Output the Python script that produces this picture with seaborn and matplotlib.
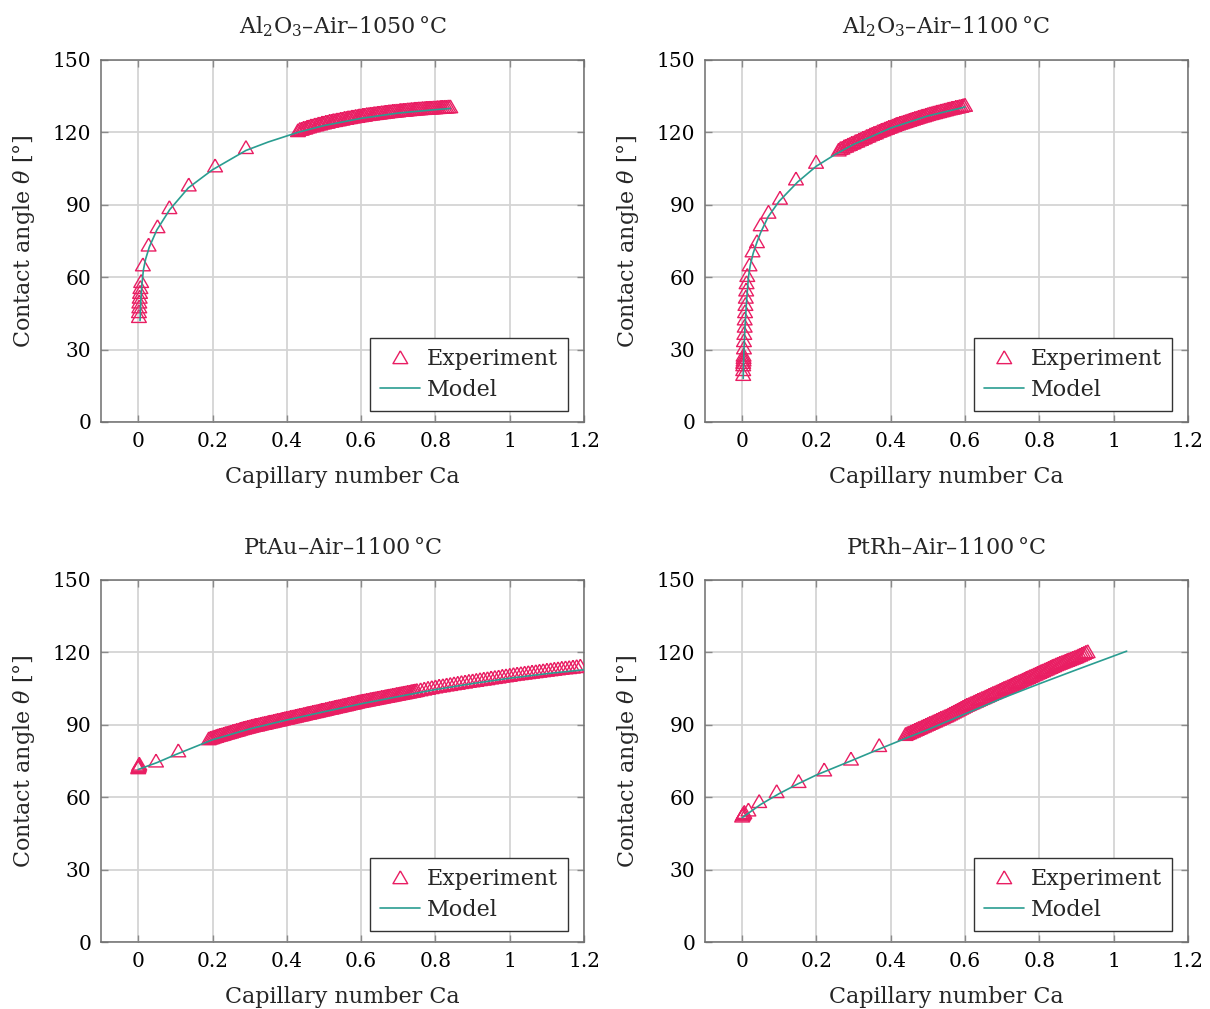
import matplotlib
matplotlib.use('Agg')
import pandas as pd
import seaborn as sns
import matplotlib.pyplot as plt
from matplotlib.markers import MarkerStyle

# ---- data ----
titles = [r'Al$_2$O$_3$–Air–1050$\,$°C', r'Al$_2$O$_3$–Air–1100$\,$°C',
          r'PtAu–Air–1100$\,$°C', r'PtRh–Air–1100$\,$°C']

# Al2O3 1050
exp1_ca = [0.002, 0.002, 0.003, 0.003, 0.004, 0.005, 0.006, 0.008, 0.0126, 0.028,
           0.052, 0.084, 0.136, 0.207, 0.290,
           0.430, 0.435, 0.440, 0.445, 0.450, 0.455, 0.460, 0.465, 0.470, 0.475,
           0.480, 0.485, 0.490, 0.495, 0.500, 0.505, 0.510, 0.515, 0.520, 0.525,
           0.530, 0.535, 0.540, 0.545, 0.550, 0.555, 0.560, 0.565, 0.570, 0.575,
           0.580, 0.585, 0.590, 0.595, 0.600, 0.605, 0.610, 0.615, 0.620, 0.625,
           0.630, 0.635, 0.640, 0.645, 0.650, 0.655, 0.660, 0.665, 0.670, 0.675,
           0.680, 0.685, 0.690, 0.695, 0.700, 0.705, 0.710, 0.715, 0.720, 0.725,
           0.730, 0.735, 0.740, 0.745, 0.750, 0.755, 0.760, 0.765, 0.770, 0.775,
           0.780, 0.785, 0.790, 0.795, 0.800, 0.805, 0.810, 0.815, 0.820, 0.825,
           0.830, 0.835, 0.840]
exp1_th = [43, 45, 47, 49, 51, 53, 55, 57.5, 64.4, 72.6,
           80.2, 88.1, 97.5, 105.4, 113.0,
           120.0, 120.5, 120.6, 121.0, 121.1, 121.5, 121.6, 122.0, 122.0, 122.4,
           122.4, 122.8, 122.8, 123.2, 123.2, 123.5, 123.5, 123.9, 123.9, 124.2,
           124.2, 124.5, 124.5, 124.8, 124.8, 125.1, 125.1, 125.4, 125.4, 125.7,
           125.7, 125.9, 125.9, 126.2, 126.2, 126.4, 126.4, 126.7, 126.7, 126.9,
           126.9, 127.1, 127.1, 127.3, 127.3, 127.5, 127.5, 127.7, 127.7, 127.9,
           127.9, 128.1, 128.1, 128.2, 128.2, 128.4, 128.4, 128.5, 128.5, 128.7,
           128.7, 128.8, 128.8, 129.0, 129.0, 129.1, 129.1, 129.2, 129.2, 129.3,
           129.3, 129.4, 129.4, 129.5, 129.5, 129.6, 129.6, 129.7, 129.7, 129.8,
           129.8, 129.9, 129.9]
mod1_ca = [0.005, 0.007, 0.01, 0.014, 0.02, 0.03, 0.05, 0.085, 0.135, 0.2,
           0.29, 0.35, 0.43, 0.5, 0.6, 0.7, 0.8, 0.84]
mod1_th = [42, 50, 57, 63, 67.5, 72.5, 79.5, 88, 97, 104.5,
           112.5, 116, 120, 122.8, 125.8, 128, 129.4, 129.9]

# Al2O3 1100
exp2_ca = [0.003, 0.003, 0.003, 0.003, 0.004, 0.004, 0.004, 0.005, 0.005, 0.006,
           0.007, 0.007, 0.008, 0.009, 0.010, 0.011, 0.012, 0.014,
           0.020, 0.028, 0.040, 0.050, 0.071, 0.102, 0.145, 0.199,
           0.260, 0.265, 0.270, 0.275, 0.280, 0.285, 0.290, 0.295, 0.300, 0.305,
           0.310, 0.315, 0.320, 0.325, 0.330, 0.335, 0.340, 0.345, 0.350, 0.355,
           0.360, 0.365, 0.370, 0.375, 0.380, 0.385, 0.390, 0.395, 0.400, 0.405,
           0.410, 0.415, 0.420, 0.425, 0.430, 0.435, 0.440, 0.445, 0.450, 0.455,
           0.460, 0.465, 0.470, 0.475, 0.480, 0.485, 0.490, 0.495, 0.500, 0.505,
           0.510, 0.515, 0.520, 0.525, 0.530, 0.535, 0.540, 0.545, 0.550, 0.555,
           0.560, 0.565, 0.570, 0.575, 0.580, 0.585, 0.590, 0.595, 0.600]
exp2_th = [19, 21, 23, 24, 25, 26, 27, 30, 33, 36,
           39, 42, 45, 48, 51, 54, 57, 60,
           64.4, 70.2, 74, 81, 86.2, 92, 100, 106.9,
           112.0, 112.6, 112.8, 113.4, 113.6, 114.1, 114.3, 114.8, 115.0, 115.5,
           115.7, 116.2, 116.4, 116.9, 117.1, 117.6, 117.8, 118.3, 118.5, 118.9,
           119.1, 119.6, 119.8, 120.2, 120.4, 120.8, 121.0, 121.4, 121.6, 122.0,
           122.2, 122.6, 122.8, 123.1, 123.3, 123.6, 123.8, 124.1, 124.3, 124.6,
           124.8, 125.1, 125.3, 125.6, 125.8, 126.1, 126.2, 126.5, 126.7, 127.0,
           127.1, 127.4, 127.5, 127.8, 127.9, 128.2, 128.3, 128.6, 128.7, 129.0,
           129.1, 129.3, 129.4, 129.7, 129.8, 130.0, 130.1, 130.4, 130.5]
mod2_ca = [0.003, 0.005, 0.008, 0.012, 0.017, 0.022, 0.03, 0.04, 0.05, 0.07,
           0.1, 0.15, 0.2, 0.25, 0.3, 0.4, 0.5, 0.6]
mod2_th = [18, 30, 40, 50, 60, 65, 70, 74.5, 78.5, 85,
           91.5, 99.5, 106, 110.8, 115, 121.8, 126.8, 130.5]

# PtAu 1100
exp3_ca = [0.0, 0.001, 0.002, 0.003, 0.048, 0.108,
           0.190, 0.195, 0.200, 0.205, 0.210, 0.215, 0.220, 0.225, 0.230, 0.235,
           0.240, 0.245, 0.250, 0.255, 0.260, 0.265, 0.270, 0.275, 0.280, 0.285,
           0.290, 0.295, 0.300, 0.305, 0.310, 0.315, 0.320, 0.325, 0.330, 0.335,
           0.340, 0.345, 0.350, 0.355, 0.360, 0.365, 0.370, 0.375, 0.380, 0.385,
           0.390, 0.395, 0.400, 0.405, 0.410, 0.415, 0.420, 0.425, 0.430, 0.435,
           0.440, 0.445, 0.450, 0.455, 0.460, 0.465, 0.470, 0.475, 0.480, 0.485,
           0.490, 0.495, 0.500, 0.505, 0.510, 0.515, 0.520, 0.525, 0.530, 0.535,
           0.540, 0.545, 0.550, 0.555, 0.560, 0.565, 0.570, 0.575, 0.580, 0.585,
           0.590, 0.595, 0.600, 0.605, 0.610, 0.615, 0.620, 0.625, 0.630, 0.635,
           0.640, 0.645, 0.650, 0.655, 0.660, 0.665, 0.670, 0.675, 0.680, 0.685,
           0.690, 0.695, 0.700, 0.705, 0.710, 0.715, 0.720, 0.725, 0.730, 0.735,
           0.740, 0.745, 0.750,
           0.76, 0.77, 0.78, 0.79, 0.80, 0.81, 0.82, 0.83, 0.84, 0.85,
           0.86, 0.87, 0.88, 0.89, 0.90, 0.91, 0.92, 0.93, 0.94, 0.95,
           0.96, 0.97, 0.98, 0.99, 1.00, 1.01, 1.02, 1.03, 1.04, 1.05,
           1.06, 1.07, 1.08, 1.09, 1.10, 1.11, 1.12, 1.13, 1.14, 1.15,
           1.16, 1.17, 1.18, 1.19]
exp3_th = [71.5, 72, 72.5, 73, 74.3, 78.5,
           83.5, 83.8, 84.0, 84.3, 84.5, 84.8, 85.0, 85.2, 85.4, 85.7,
           85.9, 86.1, 86.3, 86.6, 86.8, 87.0, 87.2, 87.5, 87.7, 87.9,
           88.1, 88.3, 88.5, 88.7, 88.9, 89.1, 89.2, 89.4, 89.6, 89.8,
           89.9, 90.1, 90.3, 90.5, 90.6, 90.8, 91.0, 91.2, 91.3, 91.5,
           91.7, 91.9, 92.0, 92.2, 92.4, 92.6, 92.7, 92.9, 93.1, 93.3,
           93.4, 93.6, 93.8, 94.0, 94.1, 94.3, 94.5, 94.7, 94.8, 95.0,
           95.2, 95.4, 95.5, 95.7, 95.9, 96.1, 96.2, 96.4, 96.6, 96.8,
           96.9, 97.1, 97.3, 97.5, 97.6, 97.8, 98.0, 98.2, 98.3, 98.5,
           98.7, 98.9, 99.0, 99.2, 99.3, 99.5, 99.6, 99.8, 99.9, 100.1,
           100.2, 100.4, 100.5, 100.7, 100.8, 101.0, 101.1, 101.3, 101.4, 101.6,
           101.7, 101.9, 102.0, 102.2, 102.3, 102.5, 102.6, 102.8, 102.9, 103.1,
           103.2, 103.4, 103.5,
           103.8, 104.1, 104.4, 104.7, 105.0, 105.3, 105.5, 105.8, 106.0, 106.3,
           106.5, 106.8, 107.0, 107.3, 107.5, 107.7, 108.0, 108.2, 108.4, 108.7,
           108.9, 109.1, 109.4, 109.6, 109.8, 110.1, 110.3, 110.5, 110.7, 110.9,
           111.1, 111.3, 111.5, 111.7, 111.9, 112.1, 112.3, 112.5, 112.7, 112.9,
           113.0, 113.2, 113.4, 113.6]
mod3_ca = [0.0, 0.05, 0.1, 0.2, 0.3, 0.4, 0.5, 0.6, 0.7, 0.8, 0.9, 1.0, 1.1, 1.2]
mod3_th = [71.5, 74.3, 77.6, 83.8, 88.3, 92, 95.4, 98.7, 101.7, 104.6,
           107.1, 109.3, 111.2, 112.8]

# PtRh 1100
exp4_ca = [0.0, 0.002, 0.004, 0.006, 0.017, 0.046, 0.093, 0.152, 0.221, 0.293, 0.369,
           0.440, 0.445, 0.450, 0.455, 0.460, 0.465, 0.470, 0.475, 0.480, 0.485,
           0.490, 0.495, 0.500, 0.505, 0.510, 0.515, 0.520, 0.525, 0.530, 0.535,
           0.540, 0.545, 0.550, 0.555, 0.560, 0.565, 0.570, 0.575, 0.580, 0.585,
           0.590, 0.595, 0.600, 0.605, 0.610, 0.615, 0.620, 0.625, 0.630, 0.635,
           0.640, 0.645, 0.650, 0.655, 0.660, 0.665, 0.670, 0.675, 0.680, 0.685,
           0.690, 0.695, 0.700, 0.705, 0.710, 0.715, 0.720, 0.725, 0.730, 0.735,
           0.740, 0.745, 0.750, 0.755, 0.760, 0.765, 0.770, 0.775, 0.780, 0.785,
           0.790, 0.795, 0.800, 0.805, 0.810, 0.815, 0.820, 0.825, 0.830, 0.835,
           0.840, 0.845, 0.850, 0.855, 0.860, 0.865, 0.870, 0.875, 0.880, 0.885,
           0.890, 0.895, 0.900, 0.905, 0.910, 0.915, 0.920, 0.925, 0.930]
exp4_th = [51.5, 52, 52.5, 53, 54, 57.5, 61.6, 65.8, 70.6, 75.1, 80.7,
           85.3, 85.7, 86.0, 86.4, 86.7, 87.1, 87.4, 87.8, 88.1, 88.5,
           88.8, 89.2, 89.5, 89.9, 90.2, 90.6, 90.9, 91.3, 91.6, 92.0,
           92.3, 92.7, 93.0, 93.4, 93.8, 94.2, 94.6, 95.0, 95.4, 95.8,
           96.2, 96.6, 97.0, 97.4, 97.7, 98.1, 98.4, 98.8, 99.1, 99.5,
           99.8, 100.2, 100.5, 100.9, 101.2, 101.6, 101.9, 102.3, 102.6, 103.0,
           103.3, 103.7, 104.0, 104.4, 104.7, 105.1, 105.4, 105.8, 106.1, 106.5,
           106.8, 107.2, 107.5, 107.9, 108.2, 108.6, 108.9, 109.3, 109.6, 110.0,
           110.3, 110.7, 111.0, 111.4, 111.7, 112.1, 112.4, 112.8, 113.1, 113.5,
           113.8, 114.2, 114.5, 114.8, 115.1, 115.4, 115.7, 116.0, 116.3, 116.6,
           116.9, 117.2, 117.5, 117.9, 118.2, 118.6, 118.9, 119.3, 119.6]
mod4_ca = [0.0, 0.05, 0.1, 0.15, 0.2, 0.3, 0.37, 0.45, 0.5, 0.6, 0.7, 0.8, 0.9, 1.0, 1.035]
mod4_th = [51.5, 57, 61.5, 65.5, 69.2, 75.5, 80, 85, 88, 94.5, 101, 107, 112.8, 118.5, 120.5]

exp_sets = [(exp1_ca, exp1_th), (exp2_ca, exp2_th), (exp3_ca, exp3_th), (exp4_ca, exp4_th)]
mod_sets = [(mod1_ca, mod1_th), (mod2_ca, mod2_th), (mod3_ca, mod3_th), (mod4_ca, mod4_th)]

x_ticks = [0, 0.2, 0.4, 0.6, 0.8, 1.0, 1.2]
x_labels = ['0', '0.2', '0.4', '0.6', '0.8', '1', '1.2']
y_ticks = [0, 30, 60, 90, 120, 150]

pink = '#e91e63'
teal = '#2a9d91'

sns.set_theme(style='whitegrid')
plt.rcParams['font.family'] = ['DejaVu Serif']
plt.rcParams['mathtext.fontset'] = 'dejavuserif'

# equilateral open triangle like the pgfplots one
tri = MarkerStyle([(0, 1), (-0.866, -0.5), (0.866, -0.5), (0, 1)])

fig = plt.figure(figsize=(12.1, 10.09), dpi=100)
rects = [[0.0835, 0.5818, 0.3992, 0.3588], [0.5826, 0.5818, 0.3992, 0.3588],
         [0.0835, 0.0664, 0.3992, 0.3588], [0.5826, 0.0664, 0.3992, 0.3588]]

for i in range(4):
    ax = fig.add_axes(rects[i])
    ex = pd.DataFrame({'ca': exp_sets[i][0], 'theta': exp_sets[i][1]})
    md = pd.DataFrame({'ca': mod_sets[i][0], 'theta': mod_sets[i][1]})
    sns.scatterplot(data=ex, x='ca', y='theta', ax=ax, marker=tri, s=150,
                    facecolor='none', edgecolor=pink, linewidth=1.0,
                    label='Experiment', zorder=3)
    sns.lineplot(data=md, x='ca', y='theta', ax=ax, color=teal, linewidth=1.2,
                 sort=False, label='Model', zorder=4)

    ax.set_xlim(-0.1, 1.2)
    ax.set_ylim(0, 150)
    ax.set_xticks(x_ticks)
    ax.set_xticklabels(x_labels)
    ax.set_yticks(y_ticks)
    ax.grid(True, color='#d4d4d4', linewidth=1.3)
    for sp in ax.spines.values():
        sp.set_color('#6e6e6e')
        sp.set_linewidth(1.1)
    ax.tick_params(direction='in', length=5, width=1, color='#8a8a8a',
                   top=True, right=True, bottom=True, left=True,
                   labelsize=14.5, pad=7, labelcolor='black')
    ax.set_xlabel('Capillary number Ca', fontsize=16, labelpad=11)
    ax.set_ylabel(r'Contact angle $\theta$ [°]', fontsize=16, labelpad=11)
    ax.set_title(titles[i], fontsize=16, pad=19)
    leg = ax.legend(loc='lower right', bbox_to_anchor=(0.967, 0.030),
                    borderaxespad=0, fontsize=16, frameon=True, fancybox=False,
                    framealpha=1, edgecolor='#333333',
                    handlelength=1.8, labelspacing=0.4, handletextpad=0.3,
                    borderpad=0.45)
    leg.get_frame().set_linewidth(1.0)

fig.savefig('out.png', dpi=100)
